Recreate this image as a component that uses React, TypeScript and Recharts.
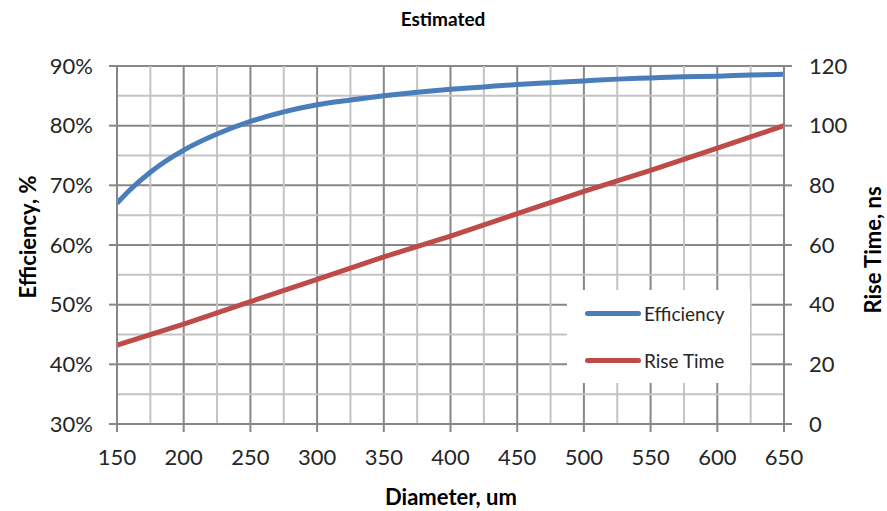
import React from 'react';
import { LineChart, Line, XAxis, YAxis, CartesianGrid, ReferenceLine } from 'recharts';

const effDiameters = [150, 160, 175, 200, 225, 250, 275, 300, 325, 350, 375, 400, 425, 450, 475, 500, 525, 550, 575, 600, 625, 650];
const efficiency = [67.0, 69.3, 72.2, 75.9, 78.6, 80.7, 82.3, 83.5, 84.3, 85.0, 85.6, 86.1, 86.5, 86.9, 87.2, 87.5, 87.8, 88.0, 88.2, 88.3, 88.5, 88.6];
const riseDiameters = [150, 200, 250, 300, 350, 400, 450, 500, 550, 600, 650];
const riseTime = [26.4, 33.5, 41.0, 48.5, 56.0, 63.0, 70.5, 78.0, 85.0, 92.5, 100];

const xTicks = [150, 200, 250, 300, 350, 400, 450, 500, 550, 600, 650];
const xMinor = [175, 225, 275, 325, 375, 425, 475, 525, 575, 625];
const leftTicks = [30, 40, 50, 60, 70, 80, 90];
const leftMinor = [35, 45, 55, 65, 75, 85];
const rightTicks = [0, 20, 40, 60, 80, 100, 120];
const seriesNames = ['Efficiency', 'Rise Time'];

const effData = effDiameters.map((d, i) => ({ d, eff: efficiency[i] }));
const riseData = riseDiameters.map((d, i) => ({ d, rise: riseTime[i] }));

const BLUE = '#4A7EBB';
const RED = '#BE4B48';
const MAJOR = '#878787';
const MINOR = '#C3C3C3';
const FONT = 'Lato, "Open Sans", sans-serif';
const TEXT = '#262626';

const W = 887;
const H = 511;

const LegendBox = () => (
  <div
    style={{
      position: 'absolute',
      left: 567,
      top: 290,
      background: '#fff',
      width: 183,
      height: 93,
      fontFamily: FONT,
      fontSize: 19,
      color: TEXT,
    }}
  >
    {[
      { name: seriesNames[0], color: BLUE, top: 23 },
      { name: seriesNames[1], color: RED, top: 70 },
    ].map((it) => (
      <div key={it.name} style={{ position: 'absolute', left: 18, top: it.top - 12, height: 24, display: 'flex', alignItems: 'center', whiteSpace: 'nowrap' }}>
        <div style={{ width: 56, height: 5, borderRadius: 3, background: it.color, marginRight: 3 }} />
        <span>{it.name}</span>
      </div>
    ))}
  </div>
);

export default function App() {
  return (
    <div style={{ position: 'absolute', left: 0, top: 0, width: W, height: H, background: '#fff' }}>
      <LineChart width={W} height={H} margin={{ top: 66, right: 33, left: 37, bottom: 37 }}>
        <CartesianGrid xAxisId="x" yAxisId="left" stroke={MAJOR} strokeWidth={2} />
        {xMinor.map((v) => (
          <ReferenceLine key={`vx${v}`} xAxisId="x" yAxisId="left" x={v} stroke={MINOR} strokeWidth={2} />
        ))}
        {leftMinor.map((v) => (
          <ReferenceLine key={`hy${v}`} xAxisId="x" yAxisId="left" y={v} stroke={MINOR} strokeWidth={2} />
        ))}
        <XAxis
          xAxisId="x"
          dataKey="d"
          type="number"
          domain={[150, 650]}
          ticks={xTicks}
          allowDataOverflow
          height={50}
          stroke={MAJOR}
          strokeWidth={2}
          tickSize={8}
          tick={{ fill: TEXT, fontSize: 22, fontFamily: FONT }}
          tickMargin={17}
        />
        <YAxis
          yAxisId="left"
          domain={[30, 90]}
          ticks={leftTicks}
          width={80}
          stroke={MAJOR}
          strokeWidth={2}
          tickSize={8}
          tickMargin={16}
          tickFormatter={(v: number) => `${v}%`}
          tick={{ fill: TEXT, fontSize: 22, fontFamily: FONT }}
        />
        <YAxis
          yAxisId="right"
          orientation="right"
          domain={[0, 120]}
          ticks={rightTicks}
          width={70}
          stroke={MAJOR}
          strokeWidth={2}
          tickSize={8}
          tickMargin={17}
          tick={{ fill: TEXT, fontSize: 22, fontFamily: FONT, textAnchor: 'start' }}
        />
        <Line
          xAxisId="x"
          yAxisId="left"
          data={effData}
          dataKey="eff"
          name={seriesNames[0]}
          type="monotone"
          stroke={BLUE}
          strokeWidth={5}
          dot={false}
          isAnimationActive={false}
        />
        <Line
          xAxisId="x"
          yAxisId="right"
          data={riseData}
          dataKey="rise"
          name={seriesNames[1]}
          type="linear"
          stroke={RED}
          strokeWidth={5}
          dot={false}
          isAnimationActive={false}
        />
      </LineChart>
      <LegendBox />
      <svg width={W} height={H} style={{ position: 'absolute', left: 0, top: 0, pointerEvents: 'none' }}>
        <text x={443} y={26} textAnchor="middle" fontFamily={FONT} fontWeight="bold" fontSize={19} fill="#000">
          Estimated
        </text>
        <text x={451} y={505} textAnchor="middle" fontFamily={FONT} fontWeight="bold" fontSize={22} fill="#000">
          Diameter, um
        </text>
        <text
          transform="translate(36,237) rotate(-90)"
          textAnchor="middle"
          fontFamily={FONT}
          fontWeight="bold"
          fontSize={22}
          fill="#000"
        >
          Efficiency, %
        </text>
        <text
          transform="translate(881,250) rotate(-90)"
          textAnchor="middle"
          fontFamily={FONT}
          fontWeight="bold"
          fontSize={22}
          fill="#000"
        >
          Rise Time, ns
        </text>
      </svg>
    </div>
  );
}
